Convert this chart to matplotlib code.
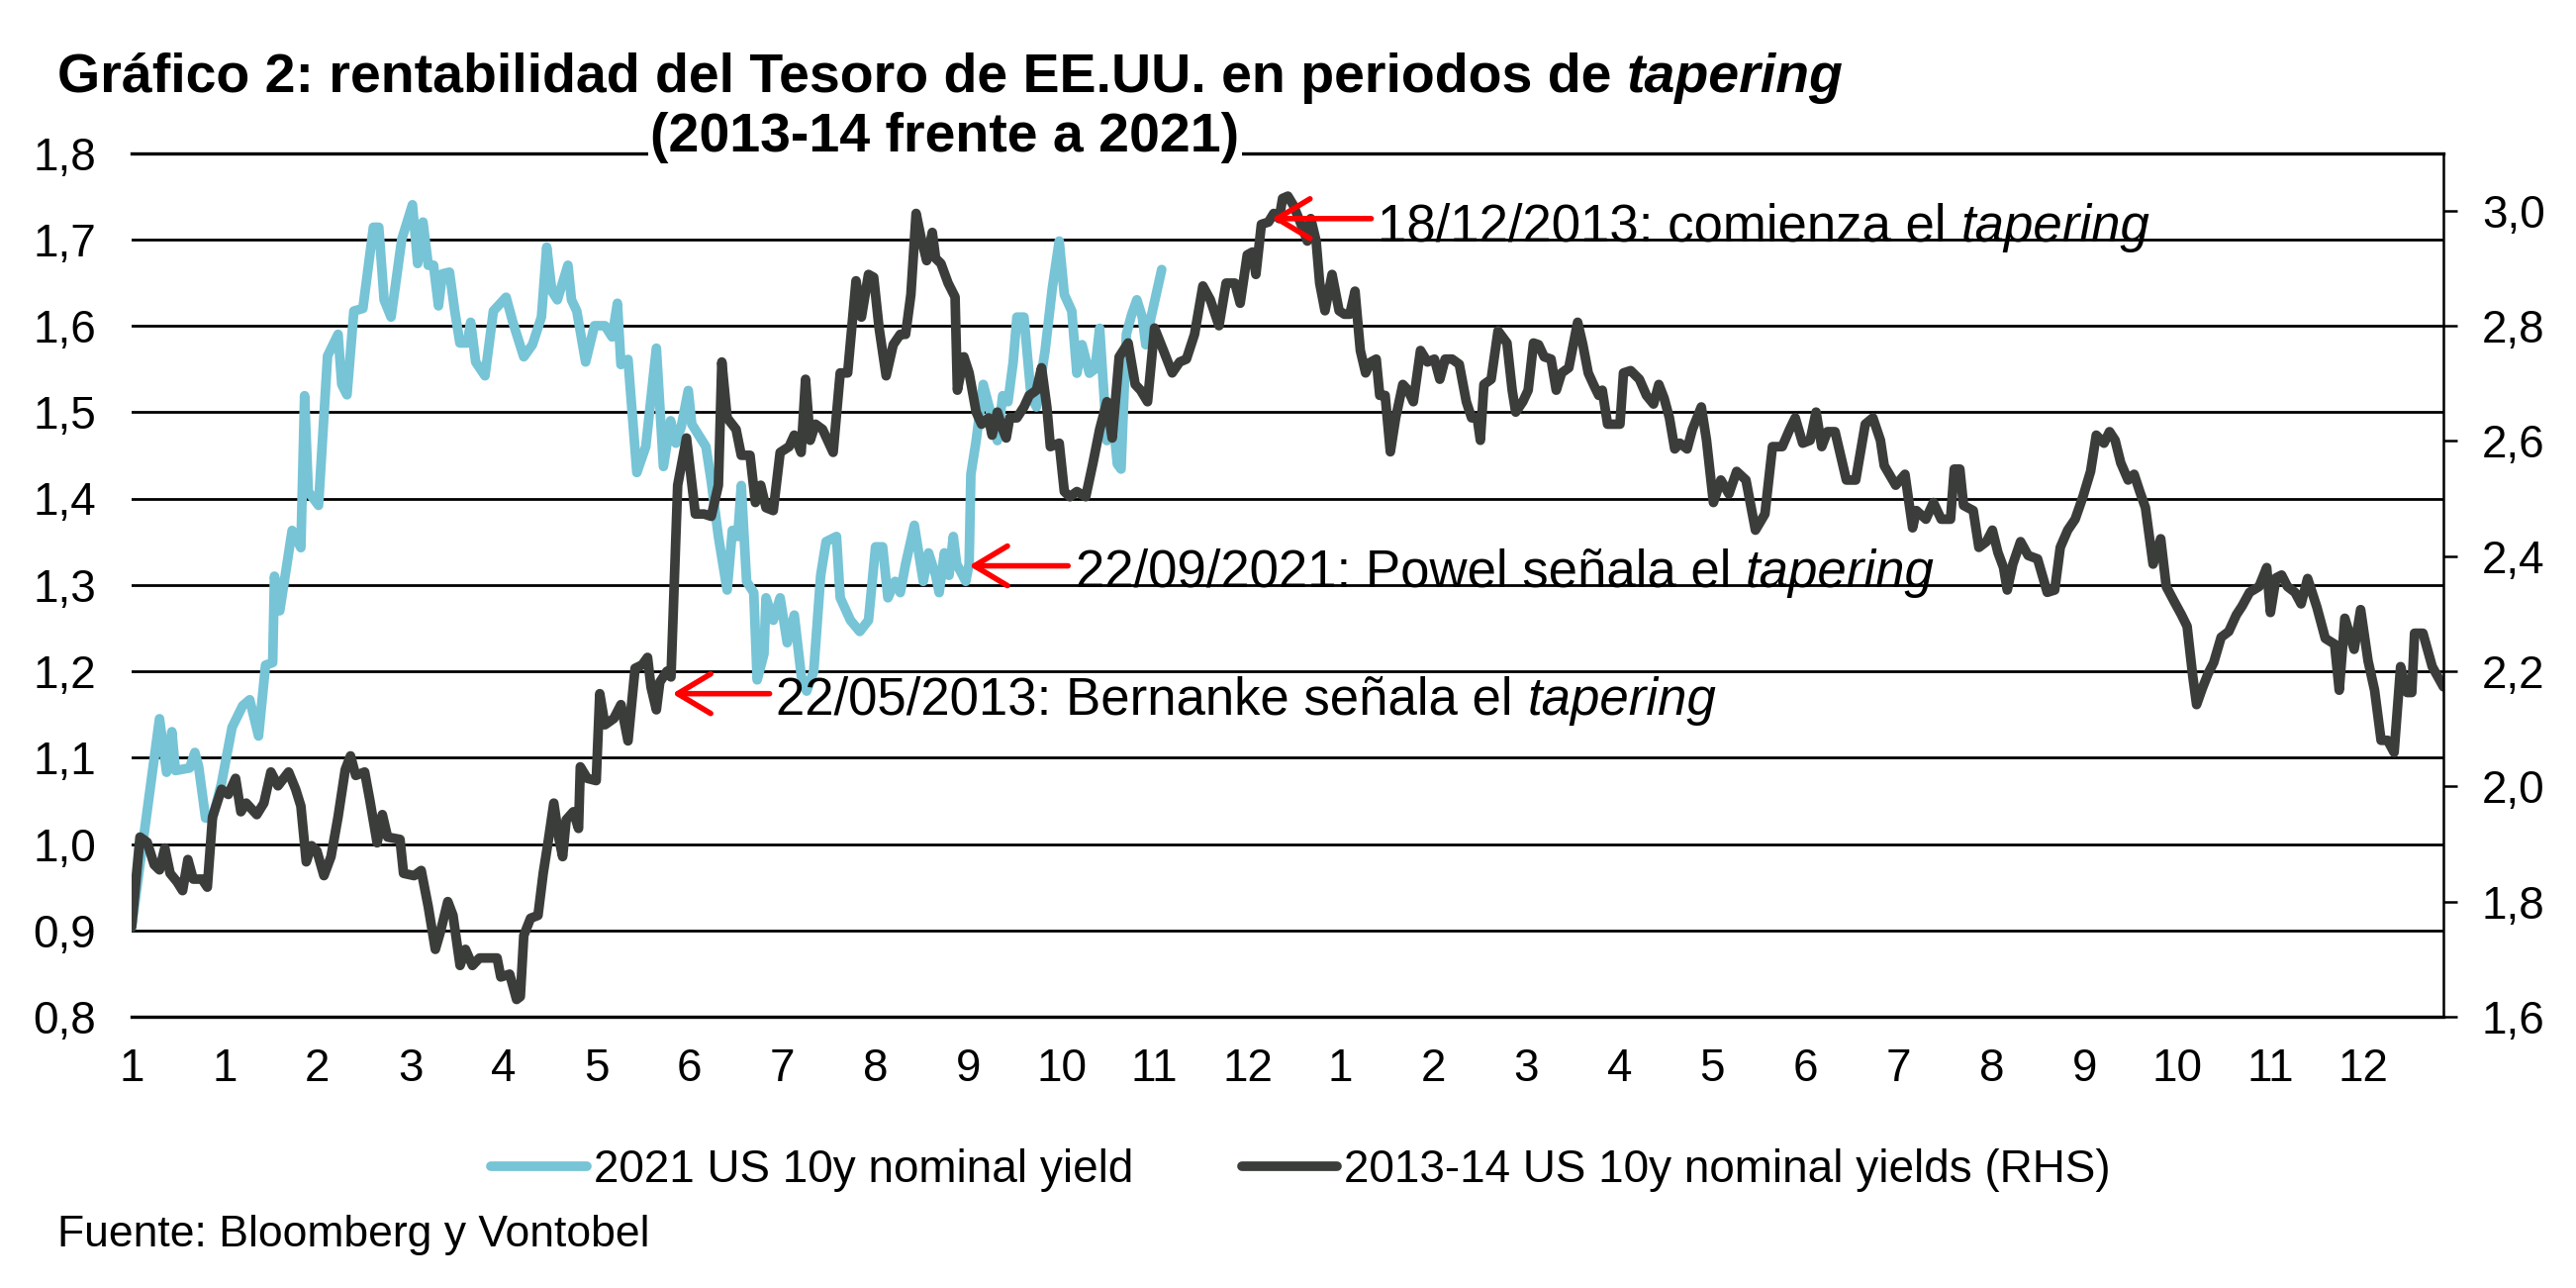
import matplotlib
matplotlib.use("Agg")
import matplotlib.pyplot as plt

plt.rcParams["font.family"] = ["Liberation Sans", "DejaVu Sans"]

# x positions are in "month label" steps from the first label
month_labels = ["1", "1", "2", "3", "4", "5", "6", "7", "8", "9", "10", "11", "12",
                "1", "2", "3", "4", "5", "6", "7", "8", "9", "10", "11", "12"]

# 2021 US 10y nominal yield (left axis)
x21 = [0.0, 0.30, 0.376, 0.433, 0.471, 0.624, 0.68, 0.72, 0.795, 0.87, 0.966, 1.08, 1.194,
       1.27, 1.365, 1.44, 1.517, 1.536, 1.593, 1.65, 1.726, 1.82, 1.86, 1.90, 2.01, 2.107,
       2.22, 2.26, 2.316, 2.39, 2.487, 2.60, 2.658, 2.715, 2.79, 2.905, 3.02, 3.076, 3.133,
       3.19, 3.247, 3.30, 3.342, 3.418, 3.475, 3.53, 3.61, 3.646, 3.70, 3.80, 3.89, 4.027,
       4.10, 4.217, 4.31, 4.407, 4.464, 4.52, 4.578, 4.692, 4.73, 4.787, 4.882, 4.977, 5.09,
       5.167, 5.224, 5.262, 5.338, 5.433, 5.529, 5.643, 5.719, 5.796, 5.853, 5.91, 5.986,
       6.024, 6.10, 6.176, 6.233, 6.31, 6.404, 6.46, 6.518, 6.556, 6.613, 6.69, 6.727, 6.80,
       6.822, 6.90, 6.974, 7.05, 7.126, 7.202, 7.259, 7.335, 7.41, 7.468, 7.58, 7.62, 7.73,
       7.83, 7.924, 8.0, 8.076, 8.133, 8.21, 8.266, 8.323, 8.417, 8.474, 8.513, 8.57, 8.646,
       8.684, 8.74, 8.79, 8.836, 8.873, 8.97, 9.006, 9.025, 9.082, 9.158, 9.253, 9.31, 9.367,
       9.424, 9.48, 9.52, 9.596, 9.672, 9.73, 9.823, 9.9, 9.975, 10.03, 10.11, 10.165, 10.22,
       10.3, 10.36, 10.41, 10.488, 10.545, 10.6, 10.64, 10.697, 10.754, 10.81, 10.868, 10.906,
       10.963, 11.077]
y21 = [0.904, 1.145, 1.083, 1.13, 1.085, 1.088, 1.106, 1.09, 1.03, 1.03, 1.07, 1.135, 1.16,
       1.167, 1.125, 1.207, 1.21, 1.31, 1.27, 1.31, 1.363, 1.343, 1.519, 1.408, 1.392, 1.565,
       1.59, 1.532, 1.52, 1.617, 1.62, 1.714, 1.714, 1.63, 1.61, 1.70, 1.74, 1.672, 1.72,
       1.67, 1.67, 1.623, 1.66, 1.662, 1.617, 1.58, 1.58, 1.604, 1.558, 1.542, 1.617, 1.633,
       1.604, 1.564, 1.578, 1.61, 1.691, 1.64, 1.63, 1.67, 1.63, 1.617, 1.558, 1.60, 1.60,
       1.587, 1.626, 1.555, 1.561, 1.43, 1.46, 1.574, 1.437, 1.49, 1.464, 1.483, 1.525,
       1.486, 1.473, 1.46, 1.42, 1.356, 1.294, 1.363, 1.356, 1.415, 1.304, 1.291, 1.19, 1.22,
       1.285, 1.259, 1.285, 1.233, 1.265, 1.194, 1.177, 1.20, 1.311, 1.35, 1.356, 1.285, 1.259,
       1.246, 1.259, 1.344, 1.344, 1.285, 1.304, 1.291, 1.324, 1.369, 1.33, 1.304, 1.337, 1.311,
       1.291, 1.337, 1.311, 1.356, 1.324, 1.304, 1.324, 1.428, 1.467, 1.532, 1.493, 1.467, 1.519,
       1.512, 1.558, 1.61, 1.61, 1.519, 1.506, 1.571, 1.643, 1.698, 1.636, 1.617, 1.545, 1.578,
       1.545, 1.55, 1.597, 1.467, 1.50, 1.44, 1.434, 1.59, 1.613, 1.63, 1.61, 1.578,
       1.61, 1.665]

# 2013-14 US 10y nominal yields (right axis)
x13 = [0.0, 0.09, 0.167, 0.243, 0.30, 0.357, 0.414, 0.49, 0.548, 0.605, 0.662, 0.757, 0.814,
       0.87, 0.966, 1.04, 1.118, 1.175, 1.232, 1.346, 1.422, 1.498, 1.574, 1.688, 1.764, 1.82,
       1.878, 1.935, 1.992, 2.068, 2.144, 2.22, 2.297, 2.354, 2.41, 2.506, 2.563, 2.64, 2.696,
       2.753, 2.886, 2.924, 3.038, 3.114, 3.19, 3.266, 3.32, 3.40, 3.456, 3.532, 3.59, 3.665,
       3.741, 3.836, 3.93, 3.97, 4.065, 4.14, 4.18, 4.217, 4.29, 4.37, 4.426, 4.483, 4.54,
       4.597, 4.635, 4.673, 4.75, 4.806, 4.825, 4.90, 4.996, 5.034, 5.09, 5.186, 5.262, 5.338,
       5.414, 5.49, 5.548, 5.586, 5.643, 5.68, 5.757, 5.80, 5.872, 5.967, 6.062, 6.157, 6.233,
       6.31, 6.347, 6.404, 6.5, 6.556, 6.65, 6.708, 6.765, 6.822, 6.9, 6.974, 7.07, 7.126, 7.2,
       7.247, 7.297, 7.354, 7.43, 7.544, 7.62, 7.7, 7.79, 7.848, 7.924, 7.98, 8.038, 8.114,
       8.19, 8.266, 8.323, 8.38, 8.436, 8.493, 8.55, 8.61, 8.646, 8.703, 8.78, 8.855, 8.88,
       8.95, 9.006, 9.082, 9.14, 9.215, 9.253, 9.31, 9.367, 9.405, 9.443, 9.52, 9.596, 9.653,
       9.73, 9.785, 9.842, 9.88, 9.975, 10.03, 10.09, 10.165, 10.26, 10.336, 10.41, 10.488,
       10.545, 10.62, 10.716, 10.792, 10.85, 10.925, 11.0, 11.096, 11.19, 11.27, 11.343,
       11.43, 11.52, 11.6, 11.693, 11.77, 11.864, 11.921, 11.997, 12.054, 12.09, 12.149,
       12.225, 12.282, 12.34, 12.377, 12.434, 12.49, 12.567, 12.643, 12.68, 12.738, 12.776,
       12.833, 12.909, 12.985, 13.042, 13.1, 13.156, 13.213, 13.27, 13.327, 13.384, 13.422,
       13.48, 13.536, 13.593, 13.67, 13.726, 13.783, 13.86, 13.935, 14.01, 14.068, 14.125,
       14.2, 14.277, 14.353, 14.41, 14.47, 14.504, 14.542, 14.62, 14.694, 14.79, 14.846,
       14.884, 14.96, 15.018, 15.075, 15.13, 15.19, 15.264, 15.32, 15.378, 15.455, 15.55,
       15.606, 15.664, 15.72, 15.777, 15.815, 15.872, 15.95, 16.005, 16.043, 16.12, 16.214,
       16.29, 16.366, 16.423, 16.48, 16.537, 16.594, 16.65, 16.727, 16.784, 16.88, 16.936,
       17.01, 17.09, 17.177, 17.26, 17.36, 17.462, 17.564, 17.645, 17.75, 17.83, 17.89, 17.97,
       18.05, 18.114, 18.175, 18.236, 18.318, 18.44, 18.54, 18.643, 18.725, 18.806, 18.847,
       18.97, 19.07, 19.152, 19.193, 19.295, 19.376, 19.46, 19.56, 19.6, 19.66, 19.7, 19.804,
       19.865, 19.946, 20.01, 20.07, 20.13, 20.17, 20.23, 20.313, 20.395, 20.496, 20.6, 20.68,
       20.74, 20.82, 20.9, 20.984, 21.066, 21.127, 21.21, 21.27, 21.33, 21.39, 21.47, 21.534,
       21.595, 21.656, 21.738, 21.82, 21.88, 21.962, 22.043, 22.104, 22.165, 22.206, 22.267,
       22.33, 22.39, 22.47, 22.552, 22.634, 22.695, 22.776, 22.878, 22.96, 23.0, 23.06, 23.12,
       23.183, 23.264, 23.33, 23.4, 23.5, 23.59, 23.69, 23.74, 23.8, 23.9, 23.97, 24.05,
       24.12, 24.19, 24.26, 24.33, 24.4, 24.47, 24.52, 24.55, 24.64, 24.74, 24.86]
y13 = [1.756, 1.912, 1.903, 1.864, 1.855, 1.893, 1.849, 1.834, 1.819, 1.873, 1.839, 1.839, 1.825,
       1.947, 1.995, 1.986, 2.014, 1.956, 1.971, 1.951, 1.971, 2.025, 2.001, 2.025, 1.995, 1.966,
       1.869, 1.897, 1.888, 1.845, 1.878, 1.947, 2.029, 2.053, 2.019, 2.025, 1.975, 1.902, 1.951,
       1.912, 1.908, 1.849, 1.845, 1.854, 1.791, 1.717, 1.747, 1.80, 1.776, 1.689, 1.717, 1.689,
       1.702, 1.702, 1.702, 1.669, 1.674, 1.63, 1.635, 1.741, 1.771, 1.776, 1.849, 1.908, 1.971,
       1.908, 1.878, 1.942, 1.956, 1.927, 2.034, 2.014, 2.01, 2.161, 2.107, 2.118, 2.142, 2.079,
       2.205, 2.211, 2.224, 2.172, 2.133, 2.181, 2.20, 2.19, 2.523, 2.605, 2.473, 2.473, 2.469,
       2.523, 2.737, 2.64, 2.62, 2.575, 2.575, 2.493, 2.523, 2.484, 2.479, 2.58, 2.59, 2.61, 2.58,
       2.707, 2.601, 2.629, 2.62, 2.58, 2.718, 2.718, 2.878, 2.815, 2.889, 2.884, 2.796, 2.713,
       2.767, 2.785, 2.785, 2.854, 2.995, 2.95, 2.913, 2.962, 2.917, 2.908, 2.874, 2.85, 2.688,
       2.746, 2.718, 2.65, 2.629, 2.64, 2.61, 2.65, 2.62, 2.605, 2.64, 2.64, 2.659, 2.679,
       2.688, 2.727, 2.659, 2.59, 2.596, 2.512, 2.503, 2.512, 2.503, 2.56, 2.62, 2.668,
       2.605, 2.746, 2.77, 2.698, 2.688, 2.668, 2.796, 2.757, 2.718, 2.737, 2.742,
       2.785, 2.869, 2.845, 2.80, 2.874, 2.874, 2.839, 2.923, 2.928, 2.889, 2.976,
       2.98, 2.995, 2.986, 3.021, 3.025, 3.01, 2.98, 2.947, 2.986, 2.947, 2.874,
       2.826, 2.889, 2.826, 2.82, 2.82, 2.86, 2.757, 2.718, 2.737, 2.742, 2.679,
       2.679, 2.581, 2.64, 2.698, 2.688, 2.668, 2.757, 2.737, 2.742, 2.707, 2.742,
       2.742, 2.733, 2.668, 2.64, 2.64, 2.601, 2.698, 2.707, 2.791, 2.77, 2.688,
       2.65, 2.668, 2.688, 2.77, 2.767, 2.746, 2.742, 2.688, 2.718, 2.727, 2.806,
       2.767, 2.718, 2.698, 2.679, 2.688, 2.629, 2.629, 2.629, 2.718, 2.722, 2.707,
       2.679, 2.664, 2.698, 2.674, 2.64, 2.586, 2.596, 2.586, 2.62, 2.659, 2.601,
       2.493, 2.532, 2.508, 2.547, 2.532, 2.445, 2.473, 2.59, 2.59, 2.62, 2.64, 2.596,
       2.601, 2.65, 2.59, 2.616, 2.616, 2.532, 2.532, 2.629, 2.64, 2.601, 2.557,
       2.523, 2.542, 2.449, 2.479, 2.464, 2.493, 2.464, 2.464, 2.551, 2.551, 2.488, 2.479,
       2.415, 2.425, 2.445, 2.406, 2.38, 2.341, 2.386, 2.425, 2.401, 2.395, 2.337, 2.341,
       2.415, 2.445, 2.464, 2.503, 2.547, 2.61, 2.596, 2.616, 2.601, 2.562, 2.532, 2.542,
       2.512, 2.484, 2.386, 2.43, 2.347, 2.322, 2.298, 2.278, 2.191, 2.142, 2.17,
       2.196, 2.215, 2.259, 2.269, 2.298, 2.313, 2.337, 2.347, 2.38, 2.302, 2.362, 2.367,
       2.347, 2.337, 2.317, 2.361, 2.311, 2.257, 2.247, 2.167, 2.292, 2.238, 2.307, 2.218,
       2.167, 2.08, 2.08, 2.059, 2.208, 2.163, 2.163, 2.266, 2.266, 2.208, 2.173]

left_ticks = [0.8, 0.9, 1.0, 1.1, 1.2, 1.3, 1.4, 1.5, 1.6, 1.7, 1.8]
right_ticks = [1.6, 1.8, 2.0, 2.2, 2.4, 2.6, 2.8, 3.0]

# (tip x, tip y, tail x, text x, text y, plain text, italic word) in left-axis units
notes = [
    (5.815, 1.174, 6.86, 6.93, 1.166, "22/05/2013: Bernanke señala el ", "tapering"),
    (9.006, 1.322, 10.07, 10.15, 1.314, "22/09/2021: Powel señala el ", "tapering"),
    (12.26, 1.724, 13.33, 13.40, 1.714, "18/12/2013: comienza el ", "tapering"),
]

LIGHT = "#76c4d6"
DARK = "#3b3d3b"
W, H = 2603, 1301

fig = plt.figure(figsize=(W / 100, H / 100), dpi=100)
ax = fig.add_axes([133 / W, 1 - 1027 / H, (2469 - 133) / W, (1027 - 154.5) / H])
ax2 = ax.twinx()

l21, = ax.plot(x21, y21, color=LIGHT, lw=7, solid_joinstyle="round", solid_capstyle="round",
               label="2021 US 10y nominal yield")
l13, = ax2.plot(x13, y13, color=DARK, lw=7, solid_joinstyle="round", solid_capstyle="round",
                label="2013-14 US 10y nominal yields (RHS)")

ax.set_xlim(0, 24.86)
ax.set_ylim(0.8, 1.8)
ax2.set_ylim(1.6, 3.1)

ax.set_yticks(left_ticks)
ax.set_yticklabels([f"{v:.1f}".replace(".", ",") for v in left_ticks], fontsize=33)
ax2.set_yticks(right_ticks)
ax2.set_yticklabels([f"{v:.1f}".replace(".", ",") for v in right_ticks], fontsize=33)
ax.set_xticks(range(len(month_labels)))
ax.set_xticklabels(month_labels, fontsize=33)

ax.tick_params(axis="y", length=0, pad=26)
ax.tick_params(axis="x", length=0, pad=22)
ax2.tick_params(axis="y", length=10, width=1.8, direction="out", pad=18)

ax.yaxis.grid(True, color="black", lw=2.0)
ax.set_axisbelow(True)
for s in ["left", "right"]:
    ax.spines[s].set_visible(False)
for s in ["top", "bottom"]:
    ax.spines[s].set_linewidth(2.4)
for s in ["left", "top", "bottom"]:
    ax2.spines[s].set_visible(False)
ax2.spines["right"].set_linewidth(1.8)

for tx, ty, sx, px, py, plain, ital in notes:
    ax2.annotate("", xy=(tx, ty), xytext=(sx, ty), xycoords=ax.transData, textcoords=ax.transData,
                 arrowprops=dict(arrowstyle="->,head_length=1.0,head_width=0.6", color="red",
                                 lw=4, shrinkA=0, shrinkB=0, mutation_scale=24))
    t = ax2.text(px, py, plain, transform=ax.transData, fontsize=38, va="center", ha="left")
    ax2.annotate(ital, xy=(1, 0), xycoords=t, va="bottom", ha="left", fontsize=38, style="italic")

# title: first line with italic last word, second line centred underneath
t1 = fig.text(58 / W, 1 - 93 / H, "Gráfico 2: rentabilidad del Tesoro de EE.UU. en periodos de ",
              fontsize=40, fontweight="bold", ha="left", va="baseline")
ax2.annotate("tapering", xy=(1, 0), xycoords=t1, va="bottom", ha="left", fontsize=40,
             fontweight="bold", style="italic", annotation_clip=False)
fig.text(955 / W, 1 - 153 / H, "(2013-14 frente a 2021)", fontsize=40, fontweight="bold",
         ha="center", va="baseline",
         bbox=dict(facecolor="white", edgecolor="none", pad=2))

fig.legend(handles=[l21, l13], loc="center", bbox_to_anchor=(0.505, 1 - 1182 / H), ncol=2,
           frameon=False, fontsize=33, handlelength=2.1, handletextpad=0.15, columnspacing=2.4)

fig.text(58 / W, 1 - 1247 / H, "Fuente: Bloomberg y Vontobel", fontsize=32, ha="left", va="center")

fig.savefig("out.png", dpi=100, facecolor="white")
